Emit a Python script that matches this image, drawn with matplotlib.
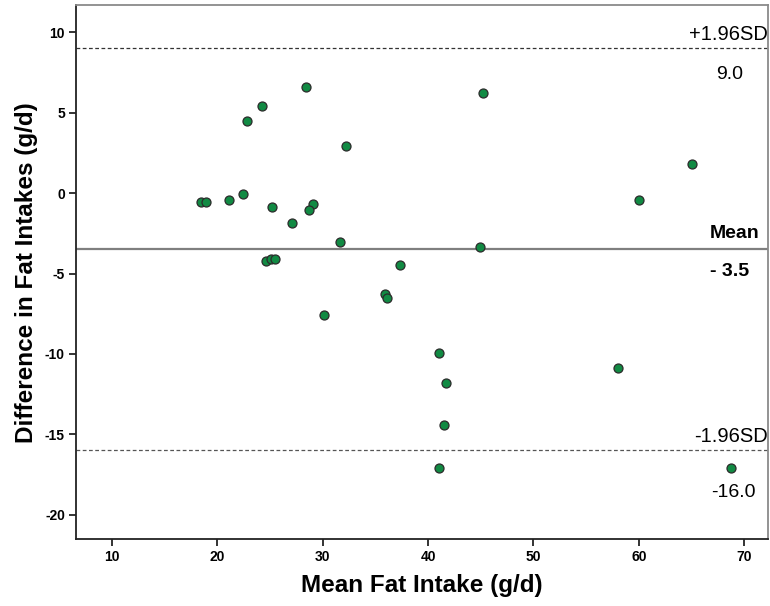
import matplotlib
matplotlib.use("Agg")
import matplotlib.pyplot as plt

mean_fat = [28.4, 24.2, 22.8, 32.2, 18.5, 18.9, 21.1, 22.4, 25.2, 29.1, 28.7, 27.1,
            31.6, 24.6, 25.1, 25.5, 30.1, 45.2, 44.9, 37.3, 35.9, 36.1, 41.0, 41.7,
            41.5, 41.0, 65.0, 60.0, 58.0, 68.7]
diff_fat = [6.6, 5.4, 4.5, 2.9, -0.55, -0.55, -0.45, -0.06, -0.85, -0.65, -1.05, -1.85,
            -3.05, -4.25, -4.1, -4.1, -7.55, 6.2, -3.35, -4.45, -6.25, -6.55, -9.95, -11.8,
            -14.45, -17.1, 1.8, -0.45, -10.85, -17.1]
mean_diff = -3.5
upper_loa = 9.0
lower_loa = -16.0
x_ticks = [10, 20, 30, 40, 50, 60, 70]
y_ticks = [10, 5, 0, -5, -10, -15, -20]

plt.rcParams['font.family'] = ['Liberation Sans', 'DejaVu Sans']
plt.rcParams['axes.unicode_minus'] = False

fig = plt.figure(figsize=(7.7, 6.06), dpi=100)
ax = fig.add_axes([0.0987, 0.110, 0.8987, 0.8813])

ax.set_xlim(6.6, 72.25)
ax.set_ylim(-21.53, 11.68)

ax.axhline(upper_loa, color='#333333', lw=0.9, ls=(0, (3, 2)), zorder=1)
ax.axhline(lower_loa, color='#555555', lw=0.9, ls=(0, (3, 2)), zorder=1)
ax.axhline(mean_diff, color='#7f7f7f', lw=1.6, zorder=1)

ax.scatter(mean_fat, diff_fat, s=42, c='#118a43', edgecolors='#2b2b2b',
           linewidths=0.9, zorder=3)

ax.set_xticks(x_ticks)
ax.set_yticks(y_ticks)
for lab in ax.get_xticklabels() + ax.get_yticklabels():
    lab.set_fontweight('bold')
    lab.set_fontsize(10)
ax.tick_params(axis='both', direction='out', length=5, width=1.4,
               color='#333333', pad=3)

for side in ['left', 'bottom']:
    ax.spines[side].set_color('#222222')
    ax.spines[side].set_linewidth(1.3)
for side in ['top', 'right']:
    ax.spines[side].set_color('#8a8a8a')
    ax.spines[side].set_linewidth(1.3)

ax.set_xlabel('Mean Fat Intake (g/d)', fontsize=17.5, fontweight='bold', labelpad=7)
ax.set_ylabel('Difference in Fat Intakes (g/d)', fontsize=17.5, fontweight='bold', labelpad=5)

tx = ax.get_xlim()[1] - 0.05
ax.text(tx, upper_loa + 0.3, '+1.96SD', ha='right', va='bottom', fontsize=14.5)
ax.text(68.6, upper_loa - 1.6, f'{upper_loa:.1f}', ha='center', va='center', fontsize=14)
ax.text(69.1, mean_diff + 1.0, 'Mean', ha='center', va='center', fontsize=14, fontweight='bold')
ax.text(68.6, mean_diff - 1.35, '- 3.5', ha='center', va='center', fontsize=14, fontweight='bold')
ax.text(tx, lower_loa + 0.3, '-1.96SD', ha='right', va='bottom', fontsize=14.5)
ax.text(69.0, lower_loa - 2.6, f'{lower_loa:.1f}', ha='center', va='center', fontsize=14)

fig.savefig('out.png', dpi=100)
